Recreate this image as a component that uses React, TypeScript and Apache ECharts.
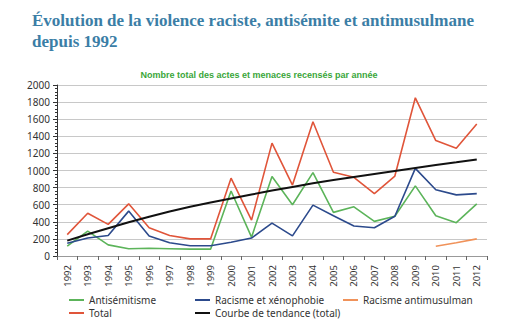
import React, { useEffect, useRef } from "react";
import * as echarts from "echarts";

const years = ["1992","1993","1994","1995","1996","1997","1998","1999","2000","2001","2002","2003","2004","2005","2006","2007","2008","2009","2010","2011","2012"];
const antisemitisme = [115, 290, 130, 85, 90, 85, 80, 80, 760, 220, 930, 600, 975, 510, 575, 405, 465, 820, 470, 390, 610];
const racisme = [150, 210, 240, 525, 235, 155, 120, 120, 160, 210, 385, 235, 595, 470, 350, 330, 465, 1025, 775, 715, 730];
const antimusulman = [null, null, null, null, null, null, null, null, null, null, null, null, null, null, null, null, null, null, 115, 155, 200];
const total = [250, 500, 370, 610, 330, 240, 200, 200, 910, 420, 1320, 830, 1570, 980, 920, 730, 935, 1850, 1350, 1260, 1545];
const tendance = [180, 255, 325, 395, 460, 520, 575, 625, 672, 719, 766, 808, 850, 890, 925, 960, 995, 1030, 1064, 1096, 1130];

const C_GREEN = "#5cb45a";
const C_BLUE = "#2c4a8c";
const C_ORANGE = "#f0925a";
const C_RED = "#e0553a";
const C_BLACK = "#111111";

export default function App() {
  const ref = useRef<HTMLDivElement>(null);
  useEffect(() => {
    const chart = echarts.init(ref.current!, undefined, { renderer: "svg" });
    const mk = (name: string, data: any[], color: string, width = 1.6) => ({
      name,
      type: "line",
      data,
      symbol: "none",
      lineStyle: { color, width },
      itemStyle: { color },
      connectNulls: false,
    });
    const legendBase = {
      orient: "vertical" as const,
      icon: "rect",
      itemWidth: 15,
      itemHeight: 2,
      itemGap: 3,
      textStyle: { fontFamily: "Noto Sans", fontSize: 10, color: "#333" },
    };
    chart.setOption({
      animation: false,
      backgroundColor: "#ffffff",
      title: [
        {
          text: "Évolution de la violence raciste, antisémite et antimusulmane\ndepuis 1992",
          left: 27,
          top: 5,
          textStyle: {
            fontFamily: "Liberation Serif",
            fontWeight: "bold",
            fontSize: 17,
            color: "#3b7ea6",
            lineHeight: 21,
          },
        },
        {
          text: "Nombre total des actes et menaces recensés par année",
          left: 254,
          textAlign: "center",
          top: 65,
          textStyle: {
            fontFamily: "Liberation Sans",
            fontWeight: "bold",
            fontSize: 9,
            color: "#3aa63a",
          },
        },
      ],
      legend: [
        { ...legendBase, left: 64, top: 290, data: ["Antisémitisme", "Total"] },
        { ...legendBase, left: 190, top: 290, data: ["Racisme et xénophobie", "Courbe de tendance (total)"] },
        { ...legendBase, left: 338, top: 290, data: ["Racisme antimusulman"] },
      ],
      grid: { left: 57, right: 27, top: 85, bottom: 79, containLabel: false },
      xAxis: {
        type: "category",
        data: years,
        boundaryGap: true,
        axisLine: { lineStyle: { color: "#999", width: 1 } },
        axisTick: { show: true, length: 4, lineStyle: { color: "#666" } },
        axisLabel: {
          rotate: 90,
          fontFamily: "Noto Sans",
          fontSize: 9.5,
          color: "#333",
          margin: 9,
        },
      },
      yAxis: {
        type: "value",
        min: 0,
        max: 2000,
        interval: 200,
        axisLine: { show: true, lineStyle: { color: "#333", width: 1 } },
        axisTick: { show: true, length: 4, lineStyle: { color: "#333" } },
        minorTick: { show: true, splitNumber: 5, length: 2, lineStyle: { color: "#333" } },
        splitLine: { lineStyle: { color: "#c8c8c8", width: 1.2 } },
        axisLabel: {
          fontFamily: "Noto Sans",
          fontSize: 10,
          color: "#333",
          margin: 7,
          formatter: (v: number) => String(v),
        },
      },
      series: [
        mk("Antisémitisme", antisemitisme, C_GREEN),
        mk("Racisme et xénophobie", racisme, C_BLUE),
        mk("Racisme antimusulman", antimusulman, C_ORANGE),
        mk("Total", total, C_RED),
        mk("Courbe de tendance (total)", tendance, C_BLACK, 2),
      ],
    });
    return () => chart.dispose();
  }, []);
  return <div ref={ref} style={{ width: 514, height: 335, position: "absolute", left: 0, top: 0 }} />;
}
